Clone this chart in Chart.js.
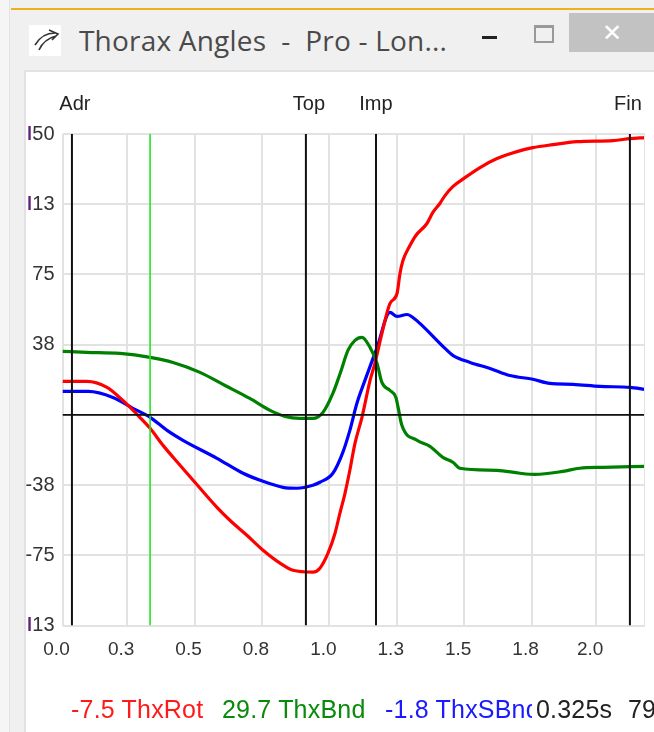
<!DOCTYPE html>
<html>
<head>
<meta charset="utf-8">
<title>Thorax Angles</title>
<script src="https://cdn.jsdelivr.net/npm/chart.js@4/dist/chart.umd.min.js"></script>
<style>
    html, body { margin: 0; padding: 0; background: #f0f0f0; }
    #frame { position: relative; width: 654px; height: 732px; overflow: hidden; }
    #frame div, #frame span { position: absolute; }
    #edge { left: 0; top: 0; width: 9px; height: 732px; background: #f5f5f5; border-right: 1px solid #e2e2e2; }
    #gold { left: 11px; top: 8px; right: 0; height: 2px; background: #ecb21e; }
    #panel { left: 24px; top: 70px; right: 0; bottom: 0; background: #fff; border-left: 2px solid #e2e2e2; border-top: 2px solid #e2e2e2; }
    #icon { left: 29px; top: 25px; width: 32px; height: 31px; background: #fff; }
    #heading { left: 79px; top: 21px; font: 28px "Open Sans", sans-serif; color: #4a4a4a; white-space: pre; letter-spacing: 0.2px; }
    #minimize { left: 482px; top: 36px; width: 15px; height: 3px; background: #222; }
    #maximize { left: 534px; top: 25px; width: 16px; height: 13px; border: 2px solid #999; border-top-width: 3px; }
    #close { left: 569px; top: 13px; width: 85px; height: 39px; background: #c2c2c2; color: #fff; font: 24px "Liberation Sans", sans-serif; text-align: center; line-height: 39px; }
    .readout { top: 695px; font: 25px "Liberation Sans", sans-serif; white-space: pre; letter-spacing: 0.2px; }
    #chart { position: absolute; left: 0; top: 0; }
</style>
</head>
<body>
<div id="frame">
    <div id="edge"></div>
    <div id="gold"></div>
    <div id="panel"></div>
    <div id="icon"><svg width="32" height="31"><path d="M6 20 Q13 8 26 8 M10 25 Q15 14 27 11 M20 5 L29 9 L23 15" fill="none" stroke="#333" stroke-width="1.6"/></svg></div>
    <div id="heading">Thorax Angles  -  Pro - Lon...</div>
    <div id="minimize"></div>
    <div id="maximize"></div>
    <div id="close">✕</div>
    <canvas id="chart" width="654" height="732"></canvas>
    <span class="readout" style="left:71px;color:#ff1a1a">-7.5 ThxRot</span>
    <span class="readout" style="left:222px;color:#0a8a0a">29.7 ThxBnd</span>
    <span class="readout" style="left:385px;width:147px;overflow:hidden;color:#1a1aff">-1.8 ThxSBnd</span>
    <span class="readout" style="left:536px;color:#222">0.325s</span>
    <span class="readout" style="left:628px;color:#222">79</span>
</div>

<script>
document.addEventListener("DOMContentLoaded", function () {

    const rotTimes = [0, 0.09, 0.165, 0.224, 0.287, 0.325, 0.373, 0.436, 0.491, 0.573, 0.621, 0.684, 0.744, 0.807, 0.855, 0.929, 0.955, 0.985, 1.011, 1.029, 1.048, 1.066, 1.085, 1.111, 1.141, 1.159, 1.185, 1.215, 1.241, 1.252, 1.263, 1.289, 1.311, 1.352, 1.374, 1.4, 1.419, 1.448, 1.493, 1.549, 1.612, 1.686, 1.745, 1.819, 1.908, 2.042, 2.105, 2.161];
    const rotValues = [17.9, 17.9, 14.7, 7.7, -1.3, -7.2, -16.3, -26.9, -36, -49.4, -56.3, -64.3, -72.3, -79.2, -83, -84, -81.9, -73.9, -63.2, -52.6, -41.9, -29.6, -15.2, -1.3, 18.4, 27.5, 43.5, 59.5, 64.8, 75.5, 82.4, 90.4, 95.8, 102.2, 108.1, 112.9, 117.1, 121.9, 126.7, 132.1, 136.9, 140.6, 142.7, 144.3, 145.9, 146.5, 147.5, 148.1];

    const bndTimes = [0, 0.09, 0.213, 0.325, 0.41, 0.51, 0.603, 0.695, 0.77, 0.825, 0.881, 0.929, 0.966, 1.003, 1.03, 1.059, 1.085, 1.111, 1.141, 1.167, 1.185, 1.215, 1.237, 1.245, 1.259, 1.315, 1.363, 1.411, 1.448, 1.474, 1.612, 1.697, 1.753, 1.856, 1.919, 2.005, 2.161];
    const bndValues = [33.9, 33.4, 32.8, 30.7, 28, 22.7, 15.7, 8.8, 2.4, -0.8, -1.9, -1.9, 1.3, 11.5, 22.1, 34.4, 39.8, 41.4, 36, 27.5, 17.3, 13, 9.3, 4, -5.6, -13.6, -16.8, -22.7, -25.3, -28.5, -29.6, -31.2, -31.8, -30.2, -28.5, -28, -27.5];

    const sbnTimes = [0, 0.095, 0.187, 0.261, 0.325, 0.388, 0.447, 0.573, 0.67, 0.744, 0.818, 0.87, 0.929, 0.955, 1.003, 1.04, 1.066, 1.092, 1.122, 1.167, 1.215, 1.241, 1.278, 1.3, 1.419, 1.448, 1.512, 1.586, 1.66, 1.745, 1.808, 1.894, 1.994, 2.105, 2.161];
    const sbnValues = [12.5, 12.5, 9.3, 3.5, -1.3, -8.3, -13.6, -23.2, -31.2, -35.5, -38.7, -39.2, -37.6, -36, -31.2, -20, -8.3, 6.1, 18.4, 36, 54.7, 52.6, 53.6, 52, 35.5, 31.8, 28, 24.8, 21, 19, 16.8, 16.3, 15.2, 14.7, 13.6];

    const eventNames = ['Adr', 'Top', 'Imp', 'Fin'];
    const eventTimes = [0.035, 0.903, 1.163, 2.105];
    const eventNudge = [3, 3, 0, -2];
    const cursorTime = 0.325;

    // gridlines sit a little left of the even quarter seconds in the picture
    const xTickValues = [0, 0.24, 0.49, 0.74, 0.99, 1.24, 1.49, 1.74, 1.98];
    const xTickLabels = ['0.0', '0.3', '0.5', '0.8', '1.0', '1.3', '1.5', '1.8', '2.0'];
    const yTickValues = [-112.5, -75, -37.5, 0, 37.5, 75, 112.5, 150];
    const yTickLabels = ['I13', '-75', '-38', '', '38', '75', 'I13', 'I50'];

    const xMin = 0, xMax = 2.161, yMin = -112.5, yMax = 150;

    function pairUp(times, values) {
        return times.map((t, i) => ({ x: t, y: values[i] }));
    }

    function verticalLine(t, color, width) {
        return {
            data: [{ x: t, y: yMin }, { x: t, y: yMax }],
            borderColor: color, borderWidth: width, pointRadius: 0
        };
    }

    function curve(times, values, color) {
        return {
            data: pairUp(times, values),
            borderColor: color, borderWidth: 3.2, pointRadius: 0,
            cubicInterpolationMode: 'monotone'
        };
    }

    // event names above the plot, and the purple clipped stroke on the y labels
    const eventLabels = {
        id: 'eventLabels',
        afterDraw(chart) {
            const ctx = chart.ctx;
            ctx.save();
            ctx.font = '20px "Liberation Sans", sans-serif';
            ctx.fillStyle = '#222';
            ctx.textAlign = 'center';
            ctx.textBaseline = 'middle';
            eventNames.forEach((name, i) => {
                ctx.fillText(name, chart.scales.x.getPixelForValue(eventTimes[i]) + eventNudge[i], 104);
            });
            ctx.textAlign = 'left';
            ctx.fillStyle = '#6a1a8a';
            yTickLabels.forEach((label, i) => {
                if (label[0] !== 'I') return;
                const left = 54.5 - ctx.measureText(label).width;
                ctx.fillText('I', left, chart.scales.y.getPixelForValue(yTickValues[i]));
            });
            ctx.restore();
        }
    };

    new Chart(document.getElementById('chart'), {
        type: 'line',
        data: {
            datasets: [
                verticalLine(xMax, '#e2e2e2', 2),
                { data: [{ x: xMin, y: 0 }, { x: xMax, y: 0 }], borderColor: '#111', borderWidth: 1.6, pointRadius: 0 },
                ...eventTimes.map(t => verticalLine(t, '#111', 2)),
                verticalLine(cursorTime, '#22e622', 1.6),
                curve(rotTimes, rotValues, '#ff0000'),
                curve(bndTimes, bndValues, '#008000'),
                curve(sbnTimes, sbnValues, '#0000ff')
            ]
        },
        plugins: [eventLabels],
        options: {
            responsive: false,
            animation: false,
            layout: { padding: { top: 134, right: 9, left: 0, bottom: 0 } },
            plugins: { legend: { display: false }, tooltip: { enabled: false } },
            scales: {
                x: {
                    type: 'linear', min: xMin, max: xMax,
                    afterBuildTicks: axis => { axis.ticks = xTickValues.map(v => ({ value: v })); },
                    afterFit: axis => { axis.height = 106.5; },
                    grid: { color: '#e2e2e2', lineWidth: 2, drawTicks: false },
                    border: { display: false },
                    ticks: {
                        autoSkip: false, maxRotation: 0, padding: 13, labelOffset: -6,
                        color: '#333', font: { family: '"Liberation Sans", sans-serif', size: 19 },
                        callback: v => xTickLabels[xTickValues.indexOf(v)]
                    }
                },
                y: {
                    type: 'linear', min: yMin, max: yMax,
                    afterBuildTicks: axis => { axis.ticks = yTickValues.map(v => ({ value: v })); },
                    afterFit: axis => { axis.width = 62.5; },
                    grid: { color: '#e2e2e2', lineWidth: 2, drawTicks: false },
                    border: { display: false },
                    ticks: {
                        autoSkip: false, padding: 8,
                        color: '#333', font: { family: '"Liberation Sans", sans-serif', size: 20 },
                        callback: v => yTickLabels[yTickValues.indexOf(v)]
                    }
                }
            }
        }
    });
});
</script>
</body>
</html>
